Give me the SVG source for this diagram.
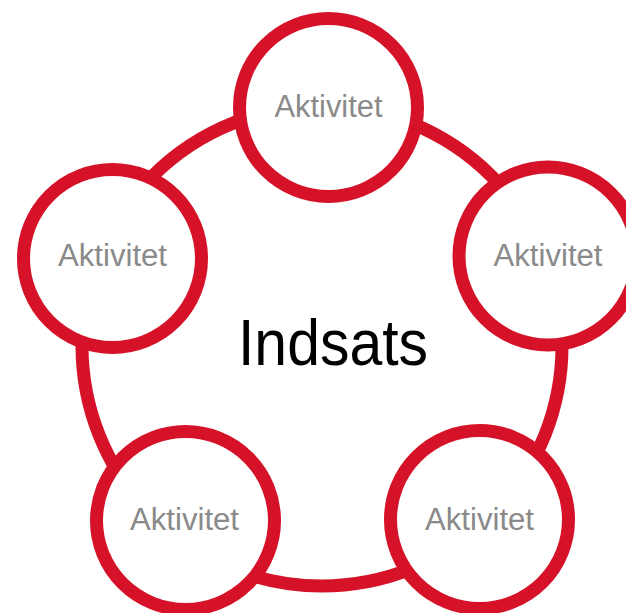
<svg xmlns="http://www.w3.org/2000/svg" width="626" height="613" viewBox="0 0 626 613">
<style>
.ring{fill:none;stroke:#D51228;stroke-width:13}
.node circle{fill:#FFFFFF;stroke:#D51228;stroke-width:13}
.node text{font-family:"Liberation Sans",Arial,sans-serif;font-size:31px;fill:#8A8A8A;text-anchor:middle}
.center{font-family:"Liberation Sans",Arial,sans-serif;font-size:65px;fill:#000000;text-anchor:middle}
</style>
<rect width="626" height="613" fill="#FFFFFF"/>
<g id="connectors">
<circle class="ring" cx="322" cy="346" r="240"/>
</g>
<g id="node-top" class="node">
<circle cx="328.5" cy="107.5" r="89"/>
<text x="328.5" y="117" textLength="108" lengthAdjust="spacingAndGlyphs">Aktivitet</text>
</g>
<g id="node-right" class="node">
<circle cx="548" cy="256" r="89"/>
<text x="548" y="266" textLength="109" lengthAdjust="spacingAndGlyphs">Aktivitet</text>
</g>
<g id="node-bottom-right" class="node">
<circle cx="479.5" cy="519.5" r="89"/>
<text x="479.5" y="530" textLength="109" lengthAdjust="spacingAndGlyphs">Aktivitet</text>
</g>
<g id="node-bottom-left" class="node">
<circle cx="185.5" cy="520.5" r="89"/>
<text x="184.5" y="530" textLength="109" lengthAdjust="spacingAndGlyphs">Aktivitet</text>
</g>
<g id="node-left" class="node">
<circle cx="112.5" cy="258.5" r="89"/>
<text x="112.5" y="265.5" textLength="109" lengthAdjust="spacingAndGlyphs">Aktivitet</text>
</g>
<g id="center">
<text class="center" x="333" y="365" textLength="190" lengthAdjust="spacingAndGlyphs">Indsats</text>
</g>
</svg>
